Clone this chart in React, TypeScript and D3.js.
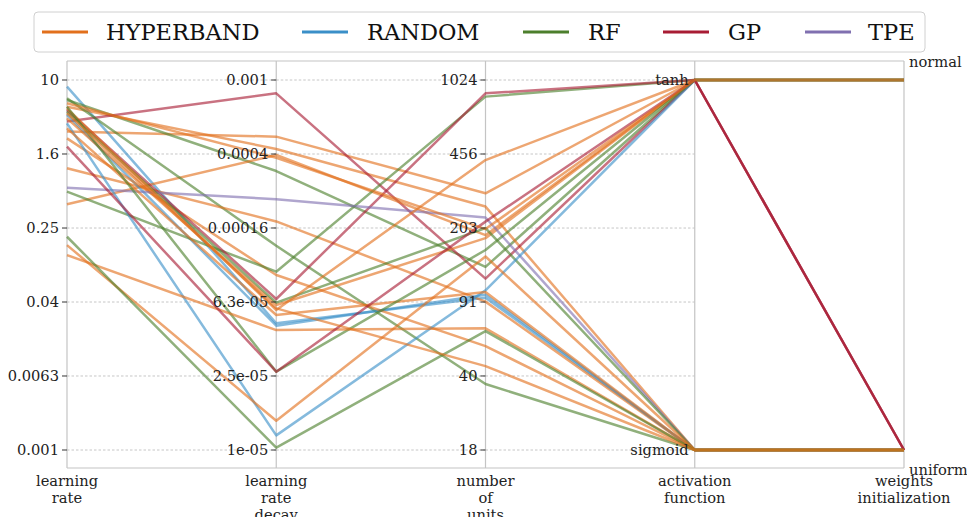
import React from "react";
import * as d3 from "d3";

const W = 967;
const H = 517;

const dims = ["lr", "decay", "units", "activation", "init"];
const dimLabels = [
  ["learning", "rate"],
  ["learning", "rate", "decay"],
  ["number", "of", "units"],
  ["activation", "function"],
  ["weights", "initialization"],
];

const seriesNames = ["HYPERBAND", "RANDOM", "RF", "GP", "TPE"];
const seriesColors = ["#e2701c", "#3a8fc8", "#4c7f2c", "#a81c34", "#8070b0"];

const lrTicks = [0.001, 0.00631, 0.0398, 0.251, 1.585, 10];
const lrTickLabels = ["0.001", "0.0063", "0.04", "0.25", "1.6", "10"];
const decayTicks = [1e-5, 2.512e-5, 6.31e-5, 1.585e-4, 3.981e-4, 1e-3];
const decayTickLabels = ["1e-05", "2.5e-05", "6.3e-05", "0.00016", "0.0004", "0.001"];
const unitTicks = [18, 40.4, 90.6, 203.3, 456.3, 1024];
const unitTickLabels = ["18", "40", "91", "203", "456", "1024"];
const activationCats = ["sigmoid", "tanh"];
const initCats = ["uniform", "normal"];

// one entry per trial, in drawing order
const trialSeries = [
  "HYPERBAND", "RANDOM", "RF", "HYPERBAND", "GP", "HYPERBAND", "RF", "HYPERBAND", "RANDOM",
  "HYPERBAND", "RF", "GP", "HYPERBAND", "TPE", "RF", "HYPERBAND", "RANDOM", "HYPERBAND",
  "RF", "HYPERBAND", "GP", "HYPERBAND", "RF", "HYPERBAND", "HYPERBAND",
];
const trialLr = [
  2.77, 8.47, 6.08, 5.15, 3.55, 0.453, 6.34, 1.11, 4.19,
  2.34, 0.621, 4.74, 3.85, 0.685, 4.54, 4.94, 3.4, 3.0,
  5.15, 0.128, 1.9, 0.164, 0.202, 4.37, 5.6,
];
const trialDecay = [
  4.94e-4, 4.84e-5, 3.22e-4, 4.24e-4, 8.47e-4, 3.93e-4, 1.27e-4, 1.72e-4, 4.7e-5,
  8.83e-5, 9.2e-5, 6.55e-5, 6.08e-5, 2.27e-4, 6.26e-5, 5.71e-5, 1.2e-5, 5.37e-5,
  2.65e-5, 4.45e-5, 2.65e-5, 1.44e-5, 1.03e-5, 5.83e-5, 3.8e-4,
];
const trialUnits = [
  297, 95, 133, 257, 117, 188, 37, 91, 98,
  56, 854, 885, 182, 228, 203, 427, 103, 101,
  160, 68, 218, 149, 66, 45, 201,
];
const trialActivation = [
  "tanh", "sigmoid", "tanh", "sigmoid", "tanh", "tanh", "sigmoid", "sigmoid", "sigmoid",
  "sigmoid", "tanh", "tanh", "tanh", "sigmoid", "sigmoid", "tanh", "tanh", "sigmoid",
  "tanh", "sigmoid", "tanh", "sigmoid", "sigmoid", "sigmoid", "tanh",
];
const trialInit = [
  "normal", "uniform", "normal", "uniform", "uniform", "normal", "uniform", "uniform", "uniform",
  "uniform", "normal", "uniform", "normal", "uniform", "uniform", "normal", "normal", "uniform",
  "normal", "uniform", "uniform", "uniform", "uniform", "uniform", "normal",
];

const FONT = "'DejaVu Serif', serif";

export default function App() {
  const left = 67;
  const right = 904;
  const top = 61;
  const bottom = 468;
  const yTop = 80;
  const yBot = 450;

  const x = d3.scalePoint<string>().domain(dims).range([left, right]);
  const yLr = d3.scaleLog().domain([0.001, 10]).range([yBot, yTop]);
  const yDecay = d3.scaleLog().domain([1e-5, 1e-3]).range([yBot, yTop]);
  const yUnits = d3.scaleLog().domain([18, 1024]).range([yBot, yTop]);
  const yAct = d3.scalePoint<string>().domain(activationCats).range([yBot, yTop]);
  const yInit = d3.scalePoint<string>().domain(initCats).range([yBot, yTop]);
  const color = d3.scaleOrdinal<string, string>().domain(seriesNames).range(seriesColors);

  const line = d3.line<[number, number]>();

  const trials = trialSeries.map((s, i) => ({
    s,
    pts: [
      [x("lr")!, yLr(trialLr[i])],
      [x("decay")!, yDecay(trialDecay[i])],
      [x("units")!, yUnits(trialUnits[i])],
      [x("activation")!, yAct(trialActivation[i])!],
      [x("init")!, yInit(trialInit[i])!],
    ] as [number, number][],
  }));

  const numericAxes = [
    { key: "lr", ticks: lrTicks, labels: lrTickLabels, scale: yLr },
    { key: "decay", ticks: decayTicks, labels: decayTickLabels, scale: yDecay },
    { key: "units", ticks: unitTicks, labels: unitTickLabels, scale: yUnits },
  ];

  const legendItems = [
    { name: "HYPERBAND", lx: 42, tx: 106 },
    { name: "RANDOM", lx: 302, tx: 367 },
    { name: "RF", lx: 523, tx: 588 },
    { name: "GP", lx: 663, tx: 728 },
    { name: "TPE", lx: 805, tx: 868 },
  ];

  return (
    <svg width={W} height={H} style={{ position: "absolute", left: 0, top: 0, background: "#fff" }} fontFamily={FONT}>
      {/* grid lines */}
      {numericAxes.map((a, ai) =>
        a.ticks.map((t, i) => (
          <line key={`g${ai}-${i}`} x1={x(a.key)!} x2={x(dims[ai + 1])!} y1={a.scale(t)} y2={a.scale(t)}
            stroke="#b8b8b8" strokeWidth={0.8} strokeDasharray="2.5,2" />
        ))
      )}
      {/* frame */}
      <line x1={left} x2={right} y1={top} y2={top} stroke="#c4c4c4" strokeWidth={1.2} />
      <line x1={left} x2={right} y1={bottom} y2={bottom} stroke="#c4c4c4" strokeWidth={1.2} />
      {dims.map((d) => (
        <line key={`ax${d}`} x1={x(d)!} x2={x(d)!} y1={top} y2={bottom} stroke="#c4c4c4" strokeWidth={1.2} />
      ))}
      {/* trials */}
      {trials.map((t, i) => (
        <path key={`t${i}`} d={line(t.pts)!} fill="none" stroke={color(t.s)} strokeWidth={2.5}
          strokeOpacity={0.62} strokeLinejoin="round" />
      ))}
      {/* numeric ticks */}
      {numericAxes.map((a, ai) =>
        a.ticks.map((t, i) => (
          <g key={`tk${ai}-${i}`}>
            <line x1={x(a.key)! - 5} x2={x(a.key)!} y1={a.scale(t)} y2={a.scale(t)} stroke="#333" strokeWidth={1} />
            <text x={x(a.key)! - 8} y={a.scale(t)} dy="0.35em" textAnchor="end" fontSize={14.67} fill="#222">
              {a.labels[i]}
            </text>
          </g>
        ))
      )}
      {/* activation labels */}
      {activationCats.map((c) => (
        <text key={c} x={x("activation")! - 6} y={yAct(c)!} dy="0.35em" textAnchor="end" fontSize={14.67} fill="#222">
          {c}
        </text>
      ))}
      {/* init labels */}
      <text x={909} y={top + 1} dy="0.35em" fontSize={14.67} fill="#222">{initCats[1]}</text>
      <text x={909} y={bottom + 2} dy="0.35em" fontSize={14.67} fill="#222">{initCats[0]}</text>
      {/* dim labels */}
      {dims.map((d, i) =>
        dimLabels[i].map((l, j) => (
          <text key={`dl${i}-${j}`} x={x(d)!} y={481 + j * 17} dy="0.35em" textAnchor="middle" fontSize={14.67} fill="#222">
            {l}
          </text>
        ))
      )}
      {/* legend */}
      <rect x={34} y={12} width={891} height={40} rx={4} fill="#fff" stroke="#d0d0d0" strokeWidth={1} />
      {legendItems.map((it) => (
        <g key={it.name}>
          <line x1={it.lx} x2={it.lx + 46} y1={32} y2={32} stroke={color(it.name)} strokeWidth={3} />
          <text x={it.tx} y={32} dy="0.35em" fontSize={22.5} fill="#111">{it.name}</text>
        </g>
      ))}
    </svg>
  );
}
